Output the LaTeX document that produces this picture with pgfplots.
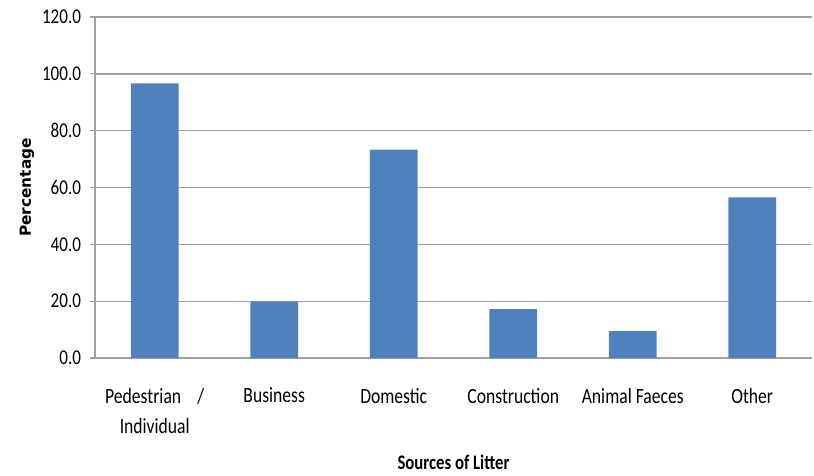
\documentclass[border=0pt]{standalone}
\usepackage{fontspec}
\setmainfont{Carlito}[FakeStretch=0.81]
\newfontfamily\ylfont{DejaVu Sans}
\usepackage{pgfplots}
\pgfplotsset{compat=1.18}
\definecolor{barblue}{HTML}{4F81BD}
\definecolor{gridgray}{HTML}{A0A0A0}
\begin{document}
\begin{tikzpicture}
\useasboundingbox (-71.25pt,-87.75pt) rectangle (539.25pt,268.5pt);
\begin{axis}[
  at={(0,0)}, anchor=south west,
  scale only axis,
  width=537.75pt, height=255.75pt,
  xmin=-0.5, xmax=5.5,
  ymin=0, ymax=120,
  ytick={0,20,...,120},
  xtick=data,
  xticklabels={{Pedestrian\hspace{0.75em}/\\Individual},Business,Domestic,Construction,Animal Faeces,Other},
  xticklabel style={align=center, font=\fontsize{16.3}{22.5}\selectfont, yshift=-15pt},
  yticklabel style={font=\fontsize{15.8}{18}\selectfont, xshift=-3pt},
  /pgf/number format/assume math mode=true,
  yticklabel={\pgfmathprintnumber[fixed,fixed zerofill,precision=1]{\tick}},
  axis x line*=bottom,
  axis y line*=left,
  axis line style={gridgray, line width=0.8pt},
  major x tick style={draw=none},
  ytick style={gridgray, line width=0.8pt},
  tick align=outside,
  major tick length=4pt,
  ymajorgrids,
  grid style={gridgray, line width=1pt},
  ylabel={\ylfont\bfseries Percentage},
  ylabel style={font=\fontsize{11.5}{14}\selectfont, at={(axis description cs:-0.095,0.5)}, anchor=center, rotate=0},
  xlabel={\bfseries Sources of Litter},
  xlabel style={font=\fontsize{15.5}{18}\selectfont, at={(axis description cs:0.5,0)}, anchor=center, yshift=-78pt},
  ybar, bar width=0.4,
  enlarge x limits=false,
]
\addplot[fill=barblue, draw=none] coordinates {(0,96.6) (1,19.8) (2,73.3) (3,17.2) (4,9.5) (5,56.5)};
\end{axis}
\end{tikzpicture}
\end{document}
